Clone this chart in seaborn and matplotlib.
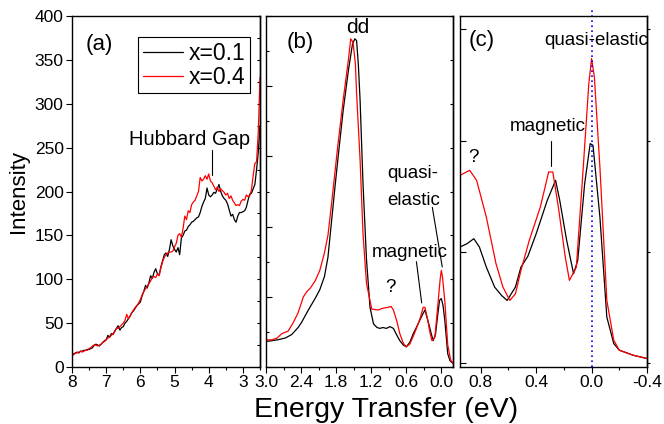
import numpy as np
import pandas as pd
import matplotlib
matplotlib.use("Agg")
import matplotlib.pyplot as plt
import seaborn as sns
from matplotlib.ticker import MultipleLocator, NullFormatter, FormatStrFormatter

# ---------------- data ----------------
# Panel (a): wide energy range, 8.0 -> 2.5 eV in 0.05 eV steps
a_energy = [round(8.0 - 0.05 * i, 2) for i in range(111)]
a_x01 = [13, 15, 16, 17, 16, 18, 18, 19, 19, 20, 20, 21, 22, 25, 26, 25, 24, 26, 28, 30,
         31, 36, 34, 38, 37, 41, 44, 47, 42, 45, 46, 50, 52, 55, 58, 62, 64, 67, 70, 72,
         74, 81, 86, 93, 90, 96, 104, 101, 108, 112, 106, 105, 114, 121, 128, 130, 126, 134, 145, 138,
         134, 131, 136, 128, 147, 150, 155, 156, 160, 162, 165, 166, 168, 170, 171, 176, 183, 188, 192, 204,
         196, 194, 196, 199, 198, 203, 208, 200, 195, 192, 190, 186, 179, 172, 174, 168, 165, 172, 176, 176,
         177, 178, 182, 190, 197, 198, 203, 208, 225, 245, 275]
a_x04 = [13, 14, 16, 16, 17, 18, 17, 18, 19, 19, 21, 22, 24, 25, 25, 24, 25, 26, 28, 29,
         31, 33, 34, 36, 38, 40, 44, 44, 46, 48, 50, 53, 60, 55, 58, 62, 65, 68, 70, 73,
         77, 82, 86, 89, 92, 95, 98, 102, 103, 102, 106, 104, 113, 120, 125, 128, 130, 131, 131, 132,
         137, 141, 150, 152, 148, 158, 172, 168, 178, 176, 185, 188, 190, 195, 200, 216, 212, 214, 218, 214,
         220, 212, 210, 206, 202, 205, 200, 203, 201, 199, 196, 198, 192, 195, 190, 187, 184, 185, 184, 189,
         191, 190, 196, 194, 195, 202, 218, 232, 234, 268, 330]

# Panel (b): 3.0 -> -0.2 eV
b_energy_x01 = [3.00, 2.80, 2.67, 2.56, 2.45, 2.39, 2.30, 2.24, 2.16, 2.08, 2.00, 1.94, 1.88, 1.82,
                1.76, 1.68, 1.59, 1.52, 1.48, 1.45, 1.42, 1.39, 1.34, 1.28, 1.22, 1.16, 1.10, 1.05,
                1.00, 0.94, 0.88, 0.82, 0.76, 0.71, 0.65, 0.60, 0.54, 0.48, 0.42, 0.37, 0.32, 0.28,
                0.23, 0.18, 0.14, 0.10, 0.06, 0.03, 0.00, -0.03, -0.06, -0.11, -0.15, -0.20]
b_int_x01 = [29, 31, 33, 37, 45, 51, 62, 69, 78, 88, 103, 125, 165, 205,
             243, 292, 338, 368, 374, 372, 345, 304, 209, 122, 68, 49, 45, 44,
             45, 44, 46, 44, 36, 30, 25, 23, 28, 38, 46, 53, 60, 65,
             53, 40, 30, 37, 60, 76, 78, 70, 53, 15, 7, 4]
b_energy_x04 = [3.00, 2.90, 2.81, 2.73, 2.62, 2.53, 2.45, 2.36, 2.30, 2.24, 2.16, 2.08, 2.00, 1.94,
                1.88, 1.82, 1.78, 1.68, 1.59, 1.55, 1.51, 1.47, 1.45, 1.39, 1.34, 1.28, 1.19, 1.08,
                1.00, 0.91, 0.86, 0.82, 0.76, 0.71, 0.65, 0.60, 0.54, 0.48, 0.42, 0.36, 0.31, 0.28,
                0.24, 0.19, 0.16, 0.11, 0.06, 0.02, 0.00, -0.02, -0.06, -0.11, -0.16, -0.20]
b_int_x04 = [31, 31, 33, 38, 41, 51, 62, 80, 86, 90, 98, 110, 130, 150,
             185, 222, 247, 304, 350, 374, 370, 345, 312, 236, 152, 95, 66, 65,
             67, 68, 69, 65, 52, 38, 27, 23, 26, 35, 45, 56, 68, 68,
             56, 38, 30, 34, 70, 100, 110, 103, 75, 25, 8, 4]

# Panel (c): 0.95 -> -0.4 eV (zoom of the low-energy region)
c_energy_x01 = [0.95, 0.90, 0.85, 0.81, 0.76, 0.70, 0.65, 0.61, 0.55, 0.51, 0.46, 0.40, 0.32, 0.26,
                0.23, 0.18, 0.13, 0.10, 0.05, 0.01, -0.01, -0.06, -0.11, -0.16, -0.20, -0.30, -0.40]
c_int_x01 = [41.7, 42.9, 44.7, 41.7, 34.5, 27.3, 24.3, 22.5, 27.3, 34.5, 38.4, 46.5, 58.5, 65.7,
             58.5, 44.1, 32.1, 36.9, 64.5, 78.9, 78.3, 52.5, 16.5, 7.0, 4.6, 2.8, 1.6]
c_energy_x04 = [0.95, 0.88, 0.83, 0.76, 0.69, 0.64, 0.59, 0.55, 0.51, 0.45, 0.37, 0.31, 0.28, 0.24,
                0.19, 0.16, 0.11, 0.06, 0.02, 0.00, -0.02, -0.06, -0.11, -0.16, -0.20, -0.30, -0.40]
c_int_x04 = [67.5, 69.3, 65.7, 52.5, 35.7, 27.3, 22.5, 24.9, 33.3, 44.1, 56.1, 68.7, 68.7, 56.1,
             38.1, 29.7, 34.5, 70.5, 100.5, 109.5, 102.9, 70.5, 22.5, 8.2, 4.6, 2.8, 1.6]

series_labels = ["x=0.1", "x=0.4"]
series_colors = ["black", "red"]

# ---------------- style ----------------
sns.set_style("ticks")
plt.rcParams["font.family"] = ["Liberation Sans", "DejaVu Sans"]
plt.rcParams.update({
    "axes.linewidth": 1.0, "axes.edgecolor": "black", "text.color": "black",
    "axes.labelcolor": "black", "xtick.color": "black", "ytick.color": "black",
})

fig = plt.figure(figsize=(6.64, 4.24), dpi=100)
bottom, top = 1 - 367 / 424, 1 - 16 / 424
h = top - bottom
ax_a = fig.add_axes([72 / 664, bottom, (260 - 72) / 664, h])
ax_b = fig.add_axes([266 / 664, bottom, (453 - 266) / 664, h])
ax_c = fig.add_axes([460 / 664, bottom, (647 - 460) / 664, h])

lw = 0.9
sns.lineplot(x=a_energy, y=a_x01, ax=ax_a, color=series_colors[0], lw=lw, label=series_labels[0], sort=False)
sns.lineplot(x=a_energy, y=a_x04, ax=ax_a, color=series_colors[1], lw=lw, label=series_labels[1], sort=False)
sns.lineplot(x=b_energy_x01, y=b_int_x01, ax=ax_b, color=series_colors[0], lw=lw, sort=False)
sns.lineplot(x=b_energy_x04, y=b_int_x04, ax=ax_b, color=series_colors[1], lw=lw, sort=False)
sns.lineplot(x=c_energy_x01, y=c_int_x01, ax=ax_c, color=series_colors[0], lw=lw, sort=False)
sns.lineplot(x=c_energy_x04, y=c_int_x04, ax=ax_c, color=series_colors[1], lw=lw, sort=False)

tick_fs = 12.5
ann_fs = 13.5
for ax in (ax_a, ax_b, ax_c):
    for s in ax.spines.values():
        s.set_visible(True)
        s.set_linewidth(1.0)
        s.set_color("black")
    ax.set_xlabel("")
    ax.set_ylabel("")
    ax.tick_params(axis="x", which="major", direction="out", length=4, width=0.8,
                   labelsize=tick_fs, pad=2, top=False)
    ax.tick_params(axis="x", which="minor", direction="out", length=2.5, width=0.8, top=False)

# Panel (a)
ax_a.set_xlim(8, 2.5)
ax_a.set_ylim(0, 400)
ax_a.xaxis.set_major_locator(MultipleLocator(1))
ax_a.xaxis.set_minor_locator(MultipleLocator(0.5))
ax_a.yaxis.set_major_locator(MultipleLocator(50))
ax_a.yaxis.set_minor_locator(MultipleLocator(25))
ax_a.tick_params(axis="y", which="major", direction="out", length=4, width=0.8,
                 labelsize=tick_fs, pad=2, right=False)
ax_a.tick_params(axis="y", which="minor", left=False, right=False)
ra = ax_a.secondary_yaxis("right")
ra.yaxis.set_major_locator(MultipleLocator(25))
ra.yaxis.set_major_formatter(NullFormatter())
ra.tick_params(axis="y", direction="in", length=2.5, width=0.8)
ra.spines["right"].set_linewidth(1.0)
ax_a.set_ylabel("Intensity", fontsize=16, labelpad=4)

leg = ax_a.legend(loc="upper right", bbox_to_anchor=(0.947, 0.940), fontsize=16.5,
                  frameon=True, fancybox=False, edgecolor="black", framealpha=1,
                  handlelength=1.75, handletextpad=0.25, borderpad=0.2, labelspacing=0.05,
                  borderaxespad=0)
leg.get_frame().set_linewidth(0.8)

ax_a.text(7.19, 367, "(a)", fontsize=16, ha="center", va="center")
ax_a.text(4.55, 259, "Hubbard Gap", fontsize=14.5, ha="center", va="center")
ax_a.plot([3.90, 3.90], [247, 219], color="black", lw=0.8)

# Panel (b)
ax_b.set_xlim(3.0, -0.2)
ax_b.set_ylim(0, 400)
ax_b.xaxis.set_major_locator(MultipleLocator(0.6))
ax_b.xaxis.set_minor_locator(MultipleLocator(0.3))
ax_b.xaxis.set_major_formatter(FormatStrFormatter("%.1f"))
ax_b.yaxis.set_major_locator(MultipleLocator(80))
ax_b.yaxis.set_minor_locator(MultipleLocator(40))
ax_b.tick_params(axis="y", which="major", direction="in", length=4, width=0.8,
                 labelleft=False, right=False)
ax_b.tick_params(axis="y", which="minor", direction="in", length=2.5, width=0.8, right=False)
rb = ax_b.secondary_yaxis("right")
rb.yaxis.set_major_locator(MultipleLocator(50))
rb.yaxis.set_major_formatter(NullFormatter())
rb.tick_params(axis="y", direction="in", length=2.5, width=0.8)

ax_b.text(2.42, 370, "(b)", fontsize=16, ha="center", va="center")
ax_b.text(1.43, 387, "dd", fontsize=15, ha="center", va="center")
ax_b.text(0.917, 221, "quasi-", fontsize=ann_fs, ha="left", va="center")
ax_b.text(0.917, 190, "elastic", fontsize=ann_fs, ha="left", va="center")
ax_b.plot([0.154, -0.016], [182, 114], color="black", lw=0.8)
ax_b.text(0.537, 130, "magnetic", fontsize=ann_fs, ha="center", va="center")
ax_b.plot([0.426, 0.336], [120, 73], color="black", lw=0.8)
ax_b.text(0.865, 91, "?", fontsize=ann_fs, ha="center", va="center")

# Panel (c)
ax_c.set_xlim(0.95, -0.4)
ax_c.set_ylim(-1.44, 124.8)
ax_c.xaxis.set_major_locator(MultipleLocator(0.4))
ax_c.xaxis.set_minor_locator(MultipleLocator(0.2))
ax_c.xaxis.set_major_formatter(FormatStrFormatter("%.1f"))
ax_c.yaxis.set_major_locator(MultipleLocator(40))
ax_c.tick_params(axis="y", which="major", direction="in", length=4, width=0.8,
                 labelleft=False, right=False)
ax_c.tick_params(axis="y", which="minor", left=False, right=False)
rc = ax_c.secondary_yaxis("right")
rc.yaxis.set_major_locator(MultipleLocator(40))
rc.yaxis.set_major_formatter(NullFormatter())
rc.tick_params(axis="y", direction="out", length=2, width=0.8)

ax_c.plot([0, 0], [-1.44, 128], color="blue", lw=1.2, ls=(0, (1, 2)), clip_on=False)
ax_c.text(0.792, 116, "(c)", fontsize=16, ha="center", va="center")
ax_c.text(-0.031, 116, "quasi-elastic", fontsize=ann_fs, ha="center", va="center")
ax_c.text(0.319, 85, "magnetic", fontsize=ann_fs, ha="center", va="center")
ax_c.plot([0.294, 0.294], [80, 71], color="black", lw=0.8)
ax_c.text(0.85, 74, "?", fontsize=ann_fs, ha="center", va="center")

fig.text(386 / 664, 1 - 410 / 424, "Energy Transfer (eV)", fontsize=20.5, ha="center", va="center")

fig.savefig("out.png", dpi=100)
